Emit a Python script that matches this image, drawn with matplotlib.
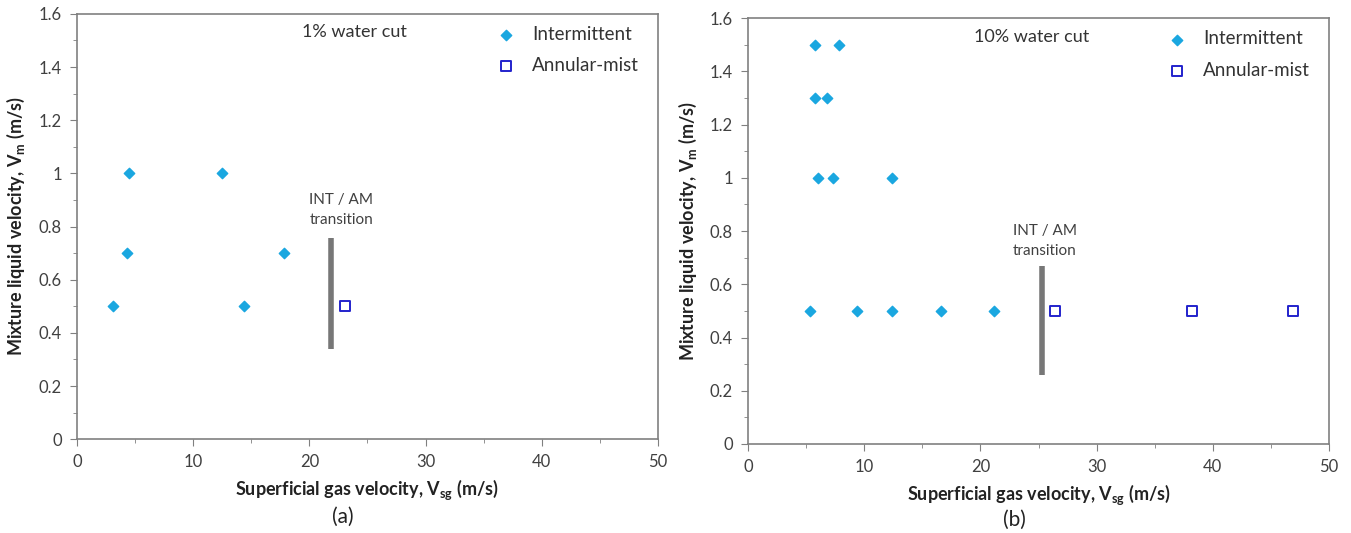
import matplotlib
matplotlib.use("Agg")
import matplotlib.pyplot as plt
from matplotlib.ticker import MultipleLocator, FuncFormatter

plt.rcParams['font.family'] = ['Lato', 'DejaVu Sans']

# (a) 1% water cut
a_int_vsg = [3.1, 4.3, 4.5, 12.5, 14.4, 17.8]
a_int_vm = [0.5, 0.7, 1.0, 1.0, 0.5, 0.7]
a_am_vsg = [23.1]
a_am_vm = [0.5]
a_trans_x = 21.9
a_trans_y = [0.34, 0.755]

# (b) 10% water cut
b_int_vsg = [5.8, 7.8, 5.8, 6.8, 6.0, 7.3, 12.4, 5.3, 9.4, 12.4, 16.6, 21.2]
b_int_vm = [1.5, 1.5, 1.3, 1.3, 1.0, 1.0, 1.0, 0.5, 0.5, 0.5, 0.5, 0.5]
b_am_vsg = [26.4, 38.2, 46.9]
b_am_vm = [0.5, 0.5, 0.5]
b_trans_x = 25.3
b_trans_y = [0.26, 0.67]

int_col = '#1aa7e0'
am_col = '#2222cc'
spine_col = '#808080'
txt_col = '#404040'


def fmt(v, pos):
    s = '%.1f' % v
    return s[:-2] if s.endswith('.0') else s


def panel(ax, int_x, int_y, am_x, am_y, tx, ty, title, title_x, lbl_xy):
    ax.scatter(int_x, int_y, marker='D', s=28, color=int_col, label='Intermittent', zorder=3)
    ax.scatter(am_x, am_y, marker='s', s=45, facecolor='white', edgecolor=am_col,
               linewidths=1.4, label='Annular-mist', zorder=3)
    ax.plot([tx, tx], ty, color='#777777', lw=4, solid_capstyle='butt')
    ax.text(lbl_xy[0], lbl_xy[1], 'INT / AM\ntransition', fontsize=11, color=txt_col,
            va='bottom', ha='left', linespacing=1.5)
    ax.text(title_x, 0.975, title, transform=ax.transAxes, fontsize=13, color='#333333',
            ha='center', va='top')
    ax.set_xlim(0, 50)
    ax.set_ylim(0, 1.6)
    ax.xaxis.set_major_locator(MultipleLocator(10))
    ax.xaxis.set_minor_locator(MultipleLocator(5))
    ax.yaxis.set_major_locator(MultipleLocator(0.2))
    ax.yaxis.set_minor_locator(MultipleLocator(0.1))
    ax.yaxis.set_major_formatter(FuncFormatter(fmt))
    ax.tick_params(which='major', direction='out', length=5, color=spine_col,
                   labelsize=12, labelcolor=txt_col, pad=6)
    ax.tick_params(which='minor', direction='out', length=3, color=spine_col)
    for sp in ax.spines.values():
        sp.set_color(spine_col)
        sp.set_linewidth(1.2)
    ax.set_xlabel('Superficial gas velocity, V$_{\\mathregular{sg}}$ (m/s)',
                  fontsize=13, fontweight='bold', color='#222222', labelpad=5)
    ax.set_ylabel('Mixture liquid velocity, V$_{\\mathregular{m}}$ (m/s)',
                  fontsize=13, fontweight='bold', color='#222222', labelpad=8)
    ax.legend(loc='upper right', bbox_to_anchor=(1.0, 1.015), frameon=False,
              fontsize=13.5, handletextpad=0.4, labelspacing=0.75, borderaxespad=0.6,
              labelcolor='#333333')


fig = plt.figure(figsize=(13.51, 5.33), dpi=100)
ax1 = fig.add_axes([0.057, 0.176, 0.430, 0.798])
ax2 = fig.add_axes([0.5537, 0.167, 0.430, 0.799])

panel(ax1, a_int_vsg, a_int_vm, a_am_vsg, a_am_vm, a_trans_x, a_trans_y,
      '1% water cut', 0.478, (20.0, 0.8))
panel(ax2, b_int_vsg, b_int_vm, b_am_vsg, b_am_vm, b_trans_x, b_trans_y,
      '10% water cut', 0.489, (22.8, 0.7))

fig.text(343 / 1351, 1 - 517 / 533, '(a)', fontsize=15, color='#222222', ha='center', va='center')
fig.text(1014 / 1351, 1 - 520 / 533, '(b)', fontsize=15, color='#222222', ha='center', va='center')

fig.savefig('out.png', dpi=100)
